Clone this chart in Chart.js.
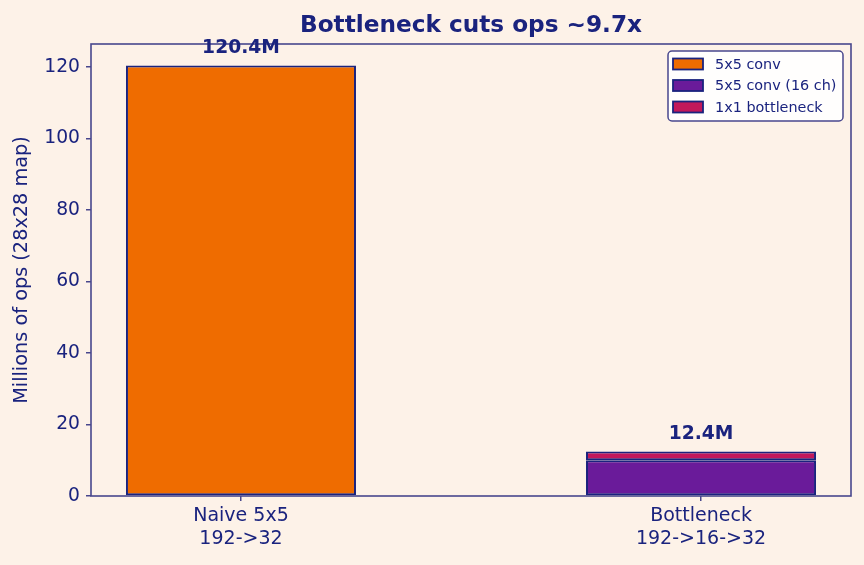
<!DOCTYPE html>
<html>
<head>
<meta charset="utf-8">
<script src="https://cdn.jsdelivr.net/npm/chart.js@4.4.1/dist/chart.umd.min.js"></script>
<style>
  html, body { margin: 0; padding: 0; background: #FDF2E8; }
  #wrap { width: 864px; height: 565px; position: relative; }
</style>
</head>
<body>
<div id="wrap"><canvas id="ops_chart"></canvas></div>
<script>
// categories (two-line tick labels)
const categories = [["Naive 5x5", "192->32"], ["Bottleneck", "192->16->32"]];
// series, millions of ops on a 28x28 map
const conv5 = [120.4, null];
const conv5Small = [null, 10.03];
const bottleneck = [null, 2.41];
const seriesNames = ["5x5 conv", "5x5 conv (16 ch)", "1x1 bottleneck"];
const yTicks = [0, 20, 40, 60, 80, 100, 120];

const navy = "#1A237E";
const spine = "#48478D";
const font = "DejaVu Sans";
const colors = ["#EF6C00", "#6A1B9A", "#C2185B"];

const totals = categories.map((c, i) => (conv5[i] || 0) + (conv5Small[i] || 0) + (bottleneck[i] || 0));
const yMax = Math.max(...totals) * 1.05;

function pts(arr) {
    return arr.map((v, i) => ({x: i, y: v}));
}

// title, y label, bar totals, frame and legend drawn by hand
const extras = {
    id: "extras",
    afterDatasetsDraw(chart) {
        const ctx = chart.ctx;
        const a = chart.chartArea;
        const xs = chart.scales.x, ys = chart.scales.y;
        ctx.save();
        // frame
        ctx.strokeStyle = spine;
        ctx.lineWidth = 1.6;
        ctx.strokeRect(a.left, a.top, a.right - a.left, a.bottom - a.top);

        ctx.fillStyle = navy;
        // title
        ctx.font = "bold 23.2px '" + font + "'";
        ctx.textAlign = "center";
        ctx.textBaseline = "alphabetic";
        ctx.fillText("Bottleneck cuts ops ~9.7x", (a.left + a.right) / 2, 32);

        // y label
        ctx.save();
        ctx.translate(22, (a.top + a.bottom) / 2);
        ctx.rotate(-Math.PI / 2);
        ctx.font = "19.3px '" + font + "'";
        ctx.textBaseline = "middle";
        ctx.fillText("Millions of ops (28x28 map)", 0, 0);
        ctx.restore();

        // totals above bars
        ctx.font = "bold 18.7px '" + font + "'";
        ctx.textBaseline = "middle";
        totals.forEach((t, i) => {
            ctx.fillText(t.toFixed(1) + "M", xs.getPixelForValue(i), ys.getPixelForValue(t) - 17);
        });

        // legend
        const bw = 175, bh = 70;
        const bx = a.right - 8 - bw, by = a.top + 7;
        ctx.beginPath();
        ctx.roundRect(bx, by, bw, bh, 4);
        ctx.fillStyle = "rgba(255,255,255,0.9)";
        ctx.fill();
        ctx.strokeStyle = spine;
        ctx.lineWidth = 1.5;
        ctx.stroke();
        ctx.font = "14.4px '" + font + "'";
        ctx.textAlign = "left";
        ctx.textBaseline = "middle";
        seriesNames.forEach((name, k) => {
            const cy = by + 13 + k * 21.5;
            ctx.fillStyle = colors[k];
            ctx.fillRect(bx + 5, cy - 5.5, 30, 11);
            ctx.strokeStyle = navy;
            ctx.lineWidth = 1.8;
            ctx.strokeRect(bx + 5, cy - 5.5, 30, 11);
            ctx.fillStyle = navy;
            ctx.fillText(name, bx + 47, cy + 1);
        });
        ctx.restore();
    }
};

const opsChart = new Chart(document.getElementById("ops_chart"), {
    type: "bar",
    data: {
        datasets: [
            {label: seriesNames[0], data: pts(conv5), backgroundColor: colors[0]},
            {label: seriesNames[1], data: pts(conv5Small), backgroundColor: colors[1]},
            {label: seriesNames[2], data: pts(bottleneck), backgroundColor: colors[2]}
        ].map(d => Object.assign(d, {
            borderColor: navy,
            borderWidth: 2,
            borderSkipped: false,
            categoryPercentage: 1,
            barPercentage: 0.5
        }))
    },
    options: {
        responsive: true,
        maintainAspectRatio: false,
        animation: false,
        layout: {padding: {top: 44, right: 13, left: 0, bottom: 0}},
        plugins: {
            legend: {display: false},
            title: {display: false},
            tooltip: {enabled: false}
        },
        scales: {
            x: {
                type: "linear",
                stacked: true,
                offset: false,
                min: -0.326,
                max: 1.326,
                afterBuildTicks: s => { s.ticks = categories.map((c, i) => ({value: i})); },
                afterFit: s => { s.height = 69; },
                ticks: {
                    color: navy,
                    font: {family: font, size: 19},
                    padding: 4,
                    callback: v => categories[v]
                },
                grid: {offset: false, drawOnChartArea: false, drawTicks: true, tickLength: 5, color: spine, lineWidth: 1.5},
                border: {display: false}
            },
            y: {
                stacked: true,
                min: 0,
                max: yMax,
                afterBuildTicks: s => { s.ticks = yTicks.map(v => ({value: v})); },
                afterFit: s => { s.width = 91; },
                ticks: {
                    color: navy,
                    font: {family: font, size: 18.7},
                    padding: 6
                },
                grid: {drawOnChartArea: false, drawTicks: true, tickLength: 5, color: spine, lineWidth: 1.5},
                border: {display: false}
            }
        }
    },
    plugins: [extras]
});
</script>
</body>
</html>
